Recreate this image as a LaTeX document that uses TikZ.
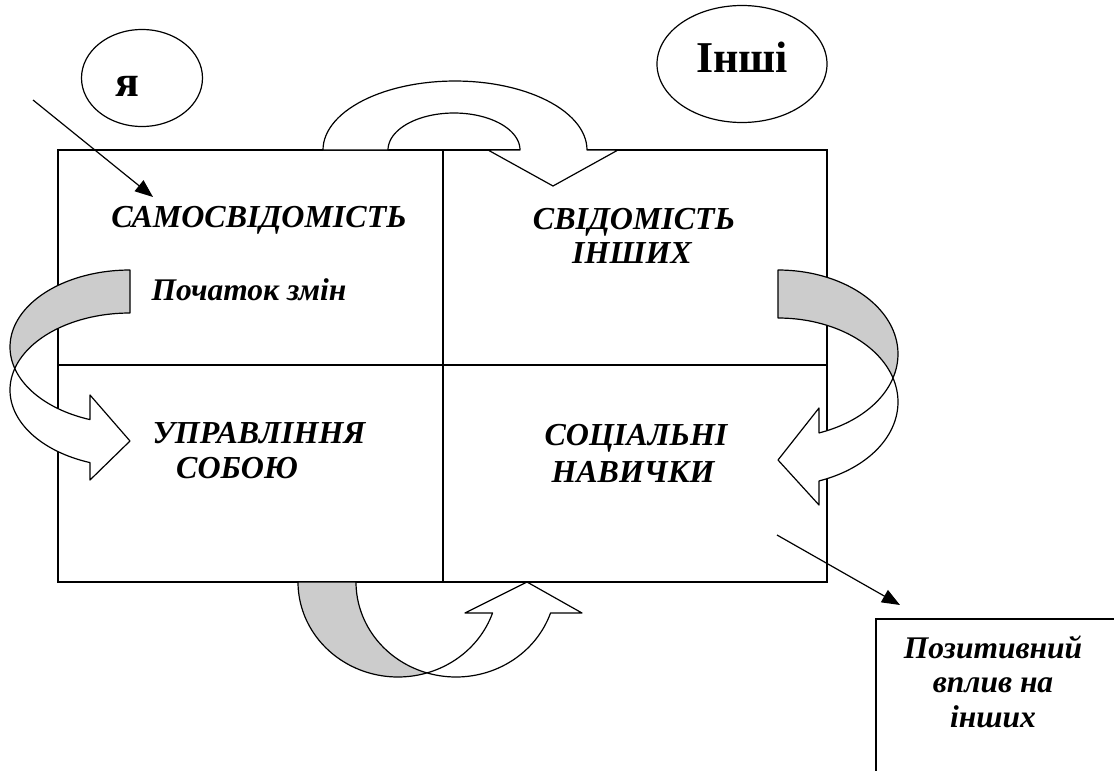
\documentclass[tikz,border=0pt]{standalone}
\usepackage{fontspec}
\setmainfont{Liberation Serif}
\usetikzlibrary{arrows.meta,shapes.geometric}
\definecolor{bandgray}{RGB}{204,204,204}
\begin{document}
\begin{tikzpicture}[x=1pt,y=-1pt,
  frame/.style={draw=black,line width=1.6pt},
  band/.style={draw=black,line width=1.2pt,line join=round},
  back/.style={band,fill=bandgray},
  front/.style={band,fill=white},
  conn/.style={draw=black,line width=1.2pt,-{Triangle[length=18pt,width=14pt]}},
  oval/.style={draw=black,line width=1.2pt,ellipse,inner sep=0pt},
  big/.style={anchor=base,inner sep=0pt,font=\fontsize{32}{36}\selectfont\bfseries\itshape},
  mid/.style={anchor=base,inner sep=0pt,font=\fontsize{31.5}{35}\selectfont\bfseries\itshape},
  small/.style={anchor=base,inner sep=0pt,font=\fontsize{31.5}{34}\selectfont\bfseries\itshape},
  head/.style={anchor=base,inner sep=0pt,font=\fontsize{44}{48}\selectfont\bfseries}
]
\useasboundingbox (0,0) rectangle (1114,771);
\clip (0,0) rectangle (1114,771);

% main grid
\draw[frame] (58,150) rectangle (827,582);
\draw[frame] (443,150) -- (443,582);
\draw[frame] (58,365) -- (827,365);

% top arrow (curved down)
\path[front] (323,150) -- plot[domain=180:360,samples=60] ({455+132*cos(\x)},{150+69*sin(\x)})
  -- (618,150) -- (553,186) -- (488,150) -- (520,150)
  -- plot[domain=360:180,samples=50] ({454+66*cos(\x)},{150+37*sin(\x)}) -- cycle;

% left arrow (curved right)
\path[back] (130,270) -- plot[domain=270:163.8,samples=50] ({130+120*cos(\x)},{347+77*sin(\x)})
  -- plot[domain=196.2:270,samples=40] ({130+120*cos(\x)},{390+77*sin(\x)}) -- cycle;
\path[front] plot[domain=163.8:109.5,samples=40] ({130+120*cos(\x)},{347+77*sin(\x)})
  -- (90,395) -- (130,441) -- (90,480)
  -- plot[domain=109.5:196.2,samples=50] ({130+120*cos(\x)},{390+77*sin(\x)}) -- cycle;

% right arrow (curved left)
\path[back] (778,270) -- plot[domain=-90:16.6,samples=50] ({778+120*cos(\x)},{354+84*sin(\x)})
  -- plot[domain=-16.6:-90,samples=40] ({778+120*cos(\x)},{402+84*sin(\x)}) -- cycle;
\path[front] plot[domain=16.6:70,samples=40] ({778+120*cos(\x)},{354+84*sin(\x)})
  -- (819,408) -- (778,460) -- (819,505)
  -- plot[domain=70:-16.6,samples=50] ({778+120*cos(\x)},{402+84*sin(\x)}) -- cycle;

% bottom arrow (curved up)
\path[back] (298,582) -- plot[domain=180:73.1,samples=50] ({398+100*cos(\x)},{582+95*sin(\x)})
  -- plot[domain=106.9:180,samples=40] ({456+100*cos(\x)},{582+95*sin(\x)}) -- cycle;
\path[front] plot[domain=73.1:19,samples=40] ({398+100*cos(\x)},{582+95*sin(\x)})
  -- (465,613) -- (527,582) -- (582,613)
  -- plot[domain=19:106.9,samples=50] ({456+100*cos(\x)},{582+95*sin(\x)}) -- cycle;

% ovals
\node[oval,minimum width=121pt,minimum height=97pt] (ovya) at (142,78) {};
\node[head] (ya) at (127,96) {я};
\node[oval,minimum width=170pt,minimum height=117pt] (ovinshi) at (742,64) {};
\node[head] (inshi) at (742,72) {Інші};

% result box
\node[frame,anchor=north west,minimum width=300pt,minimum height=220pt,inner sep=0pt] (pbox) at (875,618) {};

% texts
\node[big] (samo) at (259,227) {САМОСВІДОМІСТЬ};
\node[mid] (start) at (249,300) {Початок змін};
\node[big] (svid1) at (634,229) {СВІДОМІСТЬ};
\node[big] (svid2) at (632,263) {ІНШИХ};
\node[big] (upr1) at (259,443) {УПРАВЛІННЯ};
\node[big] (upr2) at (237,478) {СОБОЮ};
\node[big] (soc1) at (636,445) {СОЦІАЛЬНІ};
\node[big] (soc2) at (633,482) {НАВИЧКИ};
\node[small] (poz1) at (993,658) {Позитивний};
\node[small] (poz2) at (993,692) {вплив на};
\node[small] (poz3) at (993,727) {інших};

% connectors
\coordinate (c1s) at (33,100);
\coordinate (c1e) at (153,197);
\draw[conn] (c1s) -- (c1e);
\coordinate (c2s) at (777,535);
\coordinate (c2e) at (900,605);
\draw[conn] (c2s) -- (c2e);
\end{tikzpicture}
\end{document}
